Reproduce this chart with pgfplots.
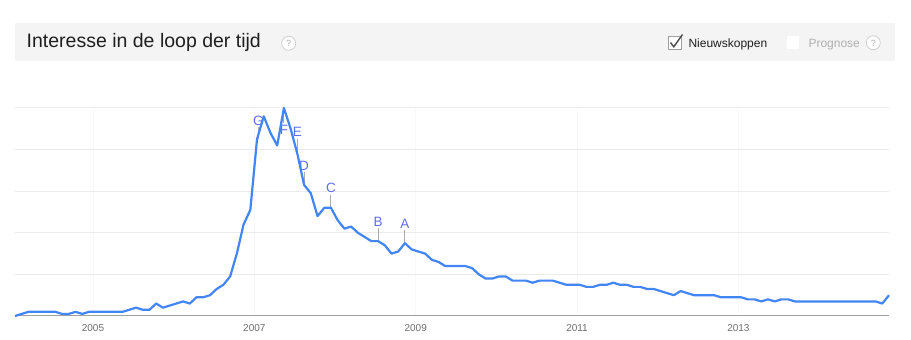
\documentclass[border=0pt]{standalone}
\usepackage{pgfplots}
\pgfplotsset{compat=1.18}
\usepackage{fontspec}
\setmainfont{Liberation Sans}
\definecolor{gline}{RGB}{66,133,244}
\definecolor{gridc}{RGB}{235,235,235}
\definecolor{vgridc}{RGB}{248,248,248}
\definecolor{basec}{RGB}{160,160,160}
\definecolor{tickc}{RGB}{110,110,110}
\definecolor{bandc}{RGB}{244,244,244}
\definecolor{letterc}{RGB}{95,110,235}
\definecolor{polec}{RGB}{170,170,170}
\definecolor{qc}{RGB}{175,175,175}
\pgfplotstableread{
i v
0 0
1 1
2 2
3 2
4 2
5 2
6 2
7 1
8 1
9 2
10 1
11 2
12 2
13 2
14 2
15 2
16 2
17 3
18 4
19 3
20 3
21 6
22 4
23 5
24 6
25 7
26 6
27 9
28 9
29 10
30 13
31 15
32 19
33 30
34 44
35 51
36 85
37 96
38 88
39 82
40 100
41 90
42 78
43 63
44 59
45 48
46 52
47 52
48 46
49 42
50 43
51 40
52 38
53 36
54 36
55 34
56 30
57 31
58 35
59 32
60 31
61 30
62 27
63 26
64 24
65 24
66 24
67 24
68 23
69 20
70 18
71 18
72 19
73 19
74 17
75 17
76 17
77 16
78 17
79 17
80 17
81 16
82 15
83 15
84 15
85 14
86 14
87 15
88 15
89 16
90 15
91 15
92 14
93 14
94 13
95 13
96 12
97 11
98 10
99 12
100 11
101 10
102 10
103 10
104 10
105 9
106 9
107 9
108 9
109 8
110 8
111 7
112 8
113 7
114 8
115 8
116 7
117 7
118 7
119 7
120 7
121 7
122 7
123 7
124 7
125 7
126 7
127 7
128 7
129 6
130 10
}\trends
\tikzset{lett/.style={inner sep=1.5pt, text=letterc, font=\fontsize{13.5}{15}\selectfont}}
\begin{document}
\begin{tikzpicture}[x=1pt,y=1pt]
\useasboundingbox (0,0) rectangle (911,340);
\fill[white] (0,0) rectangle (911,340);
% header band
\fill[bandc] (15,279) rectangle (895,317);
\node[anchor=base west, inner sep=0pt, text=black!88] at (26.5,292.7) {\fontsize{19.5}{23}\selectfont Interesse in de loop der tijd};
\draw[qc!60, fill=white, line width=0.8pt] (288.7,296.7) circle (7);
\node[text=qc, inner sep=0pt] at (288.7,296.5) {\fontsize{9}{10}\selectfont ?};
\draw[basec, fill=white, line width=0.8pt] (668.3,290.7) rectangle (681.7,304);
\draw[black!70, line width=1.4pt] (670.5,297.5) -- (673.8,293.2) -- (682.5,305.5);
\node[anchor=base west, inner sep=0pt, text=black!88] at (688.3,292.7) {\fontsize{12}{14}\selectfont Nieuwskoppen};
\fill[white] (786.7,290.7) rectangle (799.3,304);
\node[anchor=base west, inner sep=0pt, text=qc] at (808.3,292.7) {\fontsize{12}{14}\selectfont Prognose};
\draw[qc!60, fill=white, line width=0.8pt] (873.3,297.3) circle (7);
\node[text=qc, inner sep=0pt] at (873.3,297.1) {\fontsize{9}{10}\selectfont ?};
\begin{axis}[
  at={(15pt,24pt)}, anchor=south west,
  width=874pt, height=208pt, scale only axis,
  xmin=0, xmax=130, ymin=0, ymax=100,
  axis line style={draw=none},
  tick style={draw=none},
  ytick={20,40,60,80,100}, yticklabels={},
  xtick={11.6,35.6,59.6,83.6,107.6},
  xticklabels={2005,2007,2009,2011,2013},
  xmajorgrids, ymajorgrids,
  x grid style={vgridc, line width=0.8pt},
  y grid style={gridc, line width=1pt},
  xticklabel style={font=\fontsize{10}{12}\selectfont, text=tickc},
  xticklabel shift=5pt,
  /pgf/number format/assume math mode=true,
  clip=false,
]
\draw[basec, line width=1pt] (axis cs:0,0) -- (axis cs:130,0);
% annotations
\draw[polec, line width=1pt] (axis cs:36.2,85) -- ++(0,12pt) node[anchor=south, lett] {G};
\draw[polec, line width=1pt] (axis cs:40,100) -- ++(0,-15pt) node[anchor=north, lett] {F};
\draw[polec, line width=1pt] (axis cs:42,78) -- ++(0,15pt) node[anchor=south, lett] {E};
\draw[polec, line width=1pt] (axis cs:43,62) -- ++(0,15pt) node[anchor=south, lett] {D};
\draw[polec, line width=1pt] (axis cs:47,52) -- ++(0,13pt) node[anchor=south, lett] {C};
\draw[polec, line width=1pt] (axis cs:54,36) -- ++(0,13pt) node[anchor=south, lett] {B};
\draw[polec, line width=1pt] (axis cs:58,35) -- ++(0,13pt) node[anchor=south, lett] {A};
\addplot[gline, line width=2.2pt, line join=round, mark=none] table[x=i,y=v] {\trends};
\end{axis}
\end{tikzpicture}
\end{document}
